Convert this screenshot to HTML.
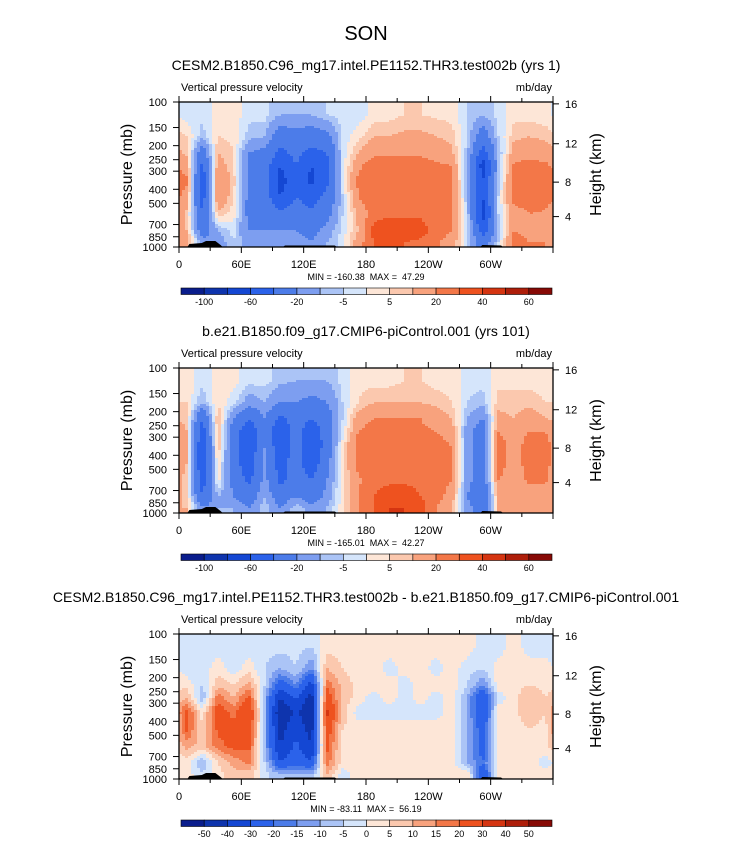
<!DOCTYPE html>
<html><head><meta charset="utf-8"><style>
body{margin:0;background:#fff;width:732px;height:842px;overflow:hidden;font-family:"Liberation Sans",sans-serif}
text{white-space:pre}
</style></head><body>
<svg id="s" width="732" height="842" xmlns="http://www.w3.org/2000/svg" font-family="Liberation Sans, sans-serif">
<text x="366" y="40" font-size="20" text-anchor="middle">SON</text>
</svg>
<script>
const presLevels=[100,150,200,250,300,400,500,700,850,1000];
const yTickLabels=[100,150,200,250,300,400,500,700,850,1000];
const hTicks=[16,12,8,4];
const hTickP=[103,194,357,617];
const xTickLon=[0,60,120,180,240,300];
const xTickLabels=["0","60E","120E","180","120W","60W"];
const levels1=[-100,-80,-60,-40,-20,-10,-5,0,5,10,20,30,40,50,60];
const cbLabels1=["-100","","-60","","-20","","-5","","5","","20","","40","","60"];
const levels3=[-50,-40,-30,-20,-15,-10,-5,0,5,10,15,20,30,40,50];
const cbLabels3=levels3.map(String);
const colors=["#0a1d8c","#0e34ad","#1447d3","#2b62ea","#4c7ce9","#7d9ef0","#abc4f6","#d5e5fb","#fde6d7","#fbc8ae","#f8a27d","#f37748","#ee521f","#d53511","#ae1e0a","#870a06"];
const data1=[[-3,5,8,15,22,15,8,10,15],[-3,-8,-30,-45,-55,-50,-40,-30,-15],[2,5,10,15,20,20,8,-10,-15],[3,4,5,5,8,5,3,-3,-5],[-3,-8,-20,-25,-25,-25,-25,-20,-15],[-3,-10,-25,-30,-30,-30,-25,-20,-15],[-10,-30,-45,-60,-70,-60,-35,-20,-15],[-10,-25,-35,-40,-45,-40,-30,-20,-15],[-10,-30,-45,-60,-65,-50,-35,-25,-20],[-5,-25,-40,-45,-45,-35,-25,-15,-10],[-3,-3,-3,-3,-3,-5,-5,-3,-2],[-3,3,10,18,22,20,12,10,15],[2,10,18,25,28,28,25,35,30],[3,10,18,25,28,28,28,38,30],[5,12,18,25,28,28,28,38,30],[5,12,18,25,28,28,28,35,28],[4,10,15,22,25,25,25,25,22],[3,8,12,20,22,22,20,20,15],[-5,-5,-8,-12,-12,-10,-5,-3,-3],[-10,-30,-50,-70,-60,-60,-70,-50,-30],[-3,-5,-10,-10,-8,-5,-5,-10,-5],[3,8,15,22,25,25,15,20,25],[3,10,18,22,25,25,20,15,20],[2,8,15,22,28,28,18,15,20]];
const data2=[[3,5,8,10,10,10,5,8,10],[-3,-10,-40,-50,-60,-60,-50,-40,-20],[2,5,10,10,10,5,3,-10,-10],[2,-3,-20,-30,-30,-30,-25,-20,-10],[-3,-15,-40,-55,-55,-55,-45,-30,-20],[-3,-10,-20,-25,-20,-15,-15,-10,-5],[-8,-20,-45,-60,-55,-50,-45,-30,-20],[-10,-20,-30,-30,-30,-30,-30,-20,-5],[-10,-25,-40,-55,-60,-55,-40,-30,-15],[-10,-20,-30,-30,-30,-25,-20,-15,-10],[-3,-5,-5,-3,3,3,3,3,3],[3,5,15,20,25,25,18,20,20],[3,10,20,25,28,28,28,30,30],[3,10,20,25,28,28,28,35,40],[5,10,20,25,28,28,28,35,40],[5,10,20,22,28,28,28,30,35],[3,8,15,20,25,25,25,25,20],[3,5,10,15,20,20,20,15,10],[-3,-5,-10,-15,-15,-15,-15,-20,-15],[-3,-8,-20,-30,-30,-30,-30,-40,-30],[3,8,12,20,25,25,20,15,10],[3,8,10,15,15,15,15,10,10],[3,8,15,20,25,25,22,15,10],[3,5,10,20,25,25,22,15,10]];
const data3=[[-3,-3,3,10,22,22,12,3,3],[-3,-3,-5,-10,3,5,8,-10,-5],[-3,3,8,18,25,22,18,5,3],[-3,-3,5,10,18,22,22,12,8],[-3,3,12,22,30,26,22,16,8],[-3,-5,-5,-10,-10,-10,-10,-5,-3],[-3,-10,-25,-40,-50,-45,-40,-30,-10],[-3,-5,-15,-28,-38,-32,-28,-22,-10],[-5,-15,-35,-45,-50,-45,-40,-30,-10],[3,10,18,25,32,26,22,18,10],[3,5,8,8,8,5,3,3,-3],[3,3,3,3,-3,3,3,3,3],[3,3,3,-3,-3,3,3,3,3],[3,-3,3,3,-3,3,3,3,3],[3,3,-3,-3,-3,3,3,3,3],[3,3,3,3,-3,3,3,3,3],[3,-3,3,-3,-3,3,3,3,3],[3,3,3,3,3,3,3,3,3],[3,-3,-5,-10,-10,-10,-10,-10,5],[-3,-5,-15,-30,-30,-25,-25,-20,-30],[-3,3,3,-3,3,3,3,3,3],[3,3,3,3,3,3,3,3,3],[-3,3,5,10,10,5,3,3,5],[-3,3,3,5,5,3,3,-3,3]];
const panels=[
 {title:"CESM2.B1850.C96_mg17.intel.PE1152.THR3.test002b (yrs 1)",ty:70,top:102,d:data1,lv:levels1,cl:cbLabels1,mm:"MIN = -160.38  MAX =  47.29"},
 {title:"b.e21.B1850.f09_g17.CMIP6-piControl.001 (yrs 101)",ty:336,top:368,d:data2,lv:levels1,cl:cbLabels1,mm:"MIN = -165.01  MAX =  42.27"},
 {title:"CESM2.B1850.C96_mg17.intel.PE1152.THR3.test002b - b.e21.B1850.f09_g17.CMIP6-piControl.001",ty:602,top:634,d:data3,lv:levels3,cl:cbLabels3,mm:"MIN = -83.11  MAX =  56.19"}];
const NS="http://www.w3.org/2000/svg";
const svg=document.getElementById('s');
function mk(t,a,p){const e=document.createElementNS(NS,t);for(const k in a)e.setAttribute(k,a[k]);(p||svg).appendChild(e);return e;}
const X0=179,X1=553,H=145;
function xs(lon){return X0+lon/360*(X1-X0);}
function colorOf(v,lv){let i=0;while(i<lv.length&&v>=lv[i])i++;return colors[i];}
panels.forEach((P,pi)=>{
 const top=P.top,bot=top+H;
 function ys(p){return top+Math.log(p/100)/Math.log(10)*H;}
 let t=mk('text',{x:366,y:P.ty,'font-size':14,'text-anchor':'middle'});t.textContent=P.title;
 
 t=mk('text',{x:X0+2,y:top-11,'font-size':11});t.textContent="Vertical pressure velocity";
 
 t=mk('text',{x:X1-1,y:top-11,'font-size':11,'text-anchor':'end'});t.textContent="mb/day";
 
 const g=mk('g',{'shape-rendering':'crispEdges'});
 
 const cxs=P.d.map((c,ci)=>xs(ci*15+7.5));
 const cys=presLevels.slice(0,-1).map((p,ri)=>(ys(p)+ys(presLevels[ri+1]))/2);
 const nC=P.d.length,nR=cys.length;
 function val(px,py){
  const w=cxs[1]-cxs[0];
  let fx=(px-cxs[0])/w;let i0=Math.floor(fx);const u=fx-i0;
  const a=((i0%nC)+nC)%nC,b=(a+1)%nC;
  let j=0;while(j<nR-2&&py>cys[j+1])j++;
  let v=(py-cys[j])/(cys[j+1]-cys[j]);v=Math.max(0,Math.min(1,v));
  const A=P.d[a],B=P.d[b];
  return (1-u)*((1-v)*A[j]+v*A[j+1])+u*((1-v)*B[j]+v*B[j+1]);
 }
 const sw=3,sh=2;
 for(let y=top;y<bot;y+=sh){for(let x=X0;x<X1;x+=sw){
  const hh=Math.min(sh,bot-y),ww=Math.min(sw,X1-x);
  mk('rect',{x:x,y:y,width:ww+0.3,height:hh+0.3,fill:colorOf(val(x+ww/2,y+hh/2),P.lv)},g);
 }}
 const tp=mk('path',{d:`M${xs(8)},${bot} L${xs(10)},${bot-3} L${xs(22)},${bot-4} L${xs(26)},${bot-6} L${xs(35)},${bot-6} L${xs(40)},${bot-2} L${xs(42)},${bot} Z M${xs(100)},${bot} L${xs(102)},${bot-1.5} L${xs(150)},${bot-1.5} L${xs(152)},${bot} Z M${xs(290)},${bot} L${xs(292)},${bot-2} L${xs(310)},${bot-1.5} L${xs(312)},${bot} Z`,fill:'#000'});
 
 const fr=mk('rect',{x:X0,y:top,width:X1-X0,height:H,fill:'none',stroke:'#000','stroke-width':1.3});
 
 for(let lon=0;lon<=360;lon+=30){const x=xs(lon),L=lon%60==0?6:4;
  mk('line',{x1:x,x2:x,y1:bot,y2:bot+L,stroke:'#000'});mk('line',{x1:x,x2:x,y1:top,y2:top-L,stroke:'#000'});}
 xTickLon.forEach((lon,i)=>{const t=mk('text',{x:xs(lon),y:bot+21,'font-size':11,'text-anchor':'middle'});t.textContent=xTickLabels[i];
  });
 yTickLabels.forEach(p=>{const y=ys(p);mk('line',{x1:X0,x2:X0-6,y1:y,y2:y,stroke:'#000'});
  const t=mk('text',{x:X0-12,y:y+4,'font-size':11,'text-anchor':'end'});t.textContent=p;
  });
 hTicks.forEach((h,i)=>{const y=ys(hTickP[i]);mk('line',{x1:X1,x2:X1+6,y1:y,y2:y,stroke:'#000'});
  const t=mk('text',{x:X1+12,y:y+4,'font-size':11});t.textContent=h;
  });
 t=mk('text',{transform:`translate(132,${top+H/2}) rotate(-90)`,'font-size':16,'text-anchor':'middle'});t.textContent="Pressure (mb)";
 
 t=mk('text',{transform:`translate(601,${top+H/2}) rotate(-90)`,'font-size':16,'text-anchor':'middle'});t.textContent="Height (km)";
 
 t=mk('text',{x:366,y:bot+33,'font-size':9,'text-anchor':'middle'});t.textContent=P.mm;
 
 const cy=bot+41,cx0=181,cw=(552-181)/16;
 const cb=mk('g',{});
 colors.forEach((c,i)=>{mk('rect',{x:cx0+i*cw,y:cy,width:cw,height:6.5,fill:c,stroke:'#000','stroke-width':0.6},cb);});
 P.cl.forEach((l,i)=>{if(!l)return;const t=mk('text',{x:cx0+(i+1)*cw,y:cy+17,'font-size':9,'text-anchor':'middle'},cb);t.textContent=l;
  });
});
</script>
</body></html>
